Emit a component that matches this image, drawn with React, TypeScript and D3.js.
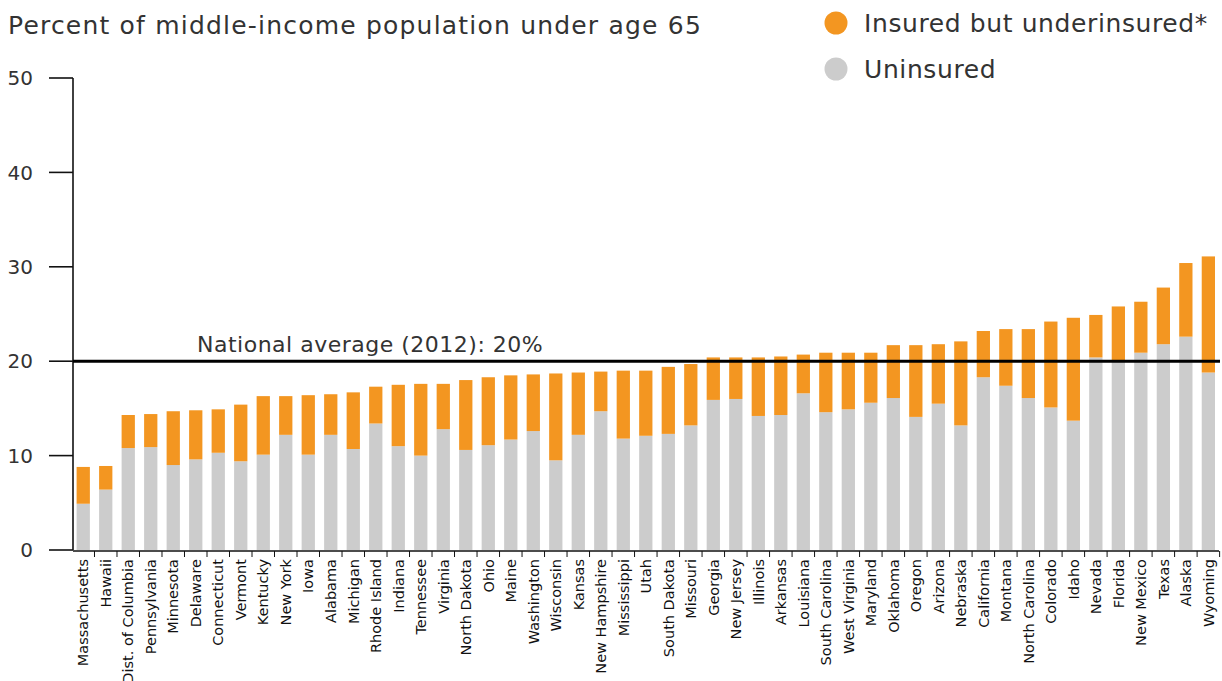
import * as d3 from "d3";
import { useEffect, useRef } from "react";

const states = [
  "Massachusetts", "Hawaii", "Dist. of Columbia", "Pennsylvania", "Minnesota", "Delaware",
  "Connecticut", "Vermont", "Kentucky", "New York", "Iowa", "Alabama", "Michigan",
  "Rhode Island", "Indiana", "Tennessee", "Virginia", "North Dakota", "Ohio", "Maine",
  "Washington", "Wisconsin", "Kansas", "New Hampshire", "Mississippi", "Utah",
  "South Dakota", "Missouri", "Georgia", "New Jersey", "Illinois", "Arkansas", "Louisiana",
  "South Carolina", "West Virginia", "Maryland", "Oklahoma", "Oregon", "Arizona",
  "Nebraska", "California", "Montana", "North Carolina", "Colorado", "Idaho", "Nevada",
  "Florida", "New Mexico", "Texas", "Alaska", "Wyoming",
];

const uninsured = [
  4.9, 6.4, 10.8, 10.9, 9.0, 9.6, 10.3, 9.4, 10.1, 12.2, 10.1, 12.2, 10.7, 13.4, 11.0, 10.0,
  12.8, 10.6, 11.1, 11.7, 12.6, 9.5, 12.2, 14.7, 11.8, 12.1, 12.3, 13.2, 15.9, 16.0, 14.2,
  14.3, 16.6, 14.6, 14.9, 15.6, 16.1, 14.1, 15.5, 13.2, 18.3, 17.4, 16.1, 15.1, 13.7, 20.4,
  20.0, 20.9, 21.8, 22.6, 18.8,
];

const underinsured = [
  3.9, 2.5, 3.5, 3.5, 5.7, 5.2, 4.6, 6.0, 6.2, 4.1, 6.3, 4.3, 6.0, 3.9, 6.5, 7.6,
  4.8, 7.4, 7.2, 6.8, 6.0, 9.2, 6.6, 4.2, 7.2, 6.9, 7.1, 6.5, 4.5, 4.4, 6.2,
  6.2, 4.1, 6.3, 6.0, 5.3, 5.6, 7.6, 6.3, 8.9, 4.9, 6.0, 7.3, 9.1, 10.9, 4.5,
  5.8, 5.4, 6.0, 7.8, 12.3,
];

const yTicks = [0, 10, 20, 30, 40, 50];
const nationalAverage = 20;

const ORANGE = "#f39621";
const GREY = "#cccccc";
const TEXT = "#333333";
const FONT = "'DejaVu Sans', sans-serif";

function App() {
  const ref = useRef<SVGSVGElement>(null);

  useEffect(() => {
    const width = 1222;
    const height = 681;
    const svg = d3.select(ref.current).attr("width", width).attr("height", height);
    svg.selectAll("*").remove();

    const x = d3
      .scaleBand<string>()
      .domain(states)
      .range([73, 1218.6])
      .paddingInner(0.41)
      .paddingOuter(0.16);
    const y = d3.scaleLinear().domain([0, 50]).range([550, 78]);

    const rows = states.map((s, i) => ({
      state: s,
      uninsured: uninsured[i],
      underinsured: underinsured[i],
    }));
    const stacked = d3.stack<any>().keys(["uninsured", "underinsured"])(rows);
    const colors = [GREY, ORANGE];

    svg
      .append("g")
      .selectAll("g")
      .data(stacked)
      .join("g")
      .attr("fill", (_d, i) => colors[i])
      .selectAll("rect")
      .data((d) => d)
      .join("rect")
      .attr("x", (d) => x(d.data.state) ?? 0)
      .attr("width", x.bandwidth())
      .attr("y", (d) => y(d[1]))
      .attr("height", (d) => y(d[0]) - y(d[1]));

    // y axis
    const yAxis = svg.append("g").attr("transform", "translate(73,0)");
    yAxis.append("line").attr("y1", y(50)).attr("y2", y(0)).attr("stroke", "#111").attr("stroke-width", 1.6);
    yAxis
      .selectAll("line.tick")
      .data(yTicks)
      .join("line")
      .attr("class", "tick")
      .attr("x1", -24)
      .attr("x2", 0)
      .attr("y1", (d) => y(d))
      .attr("y2", (d) => y(d))
      .attr("stroke", "#111")
      .attr("stroke-width", 1.6);
    yAxis
      .selectAll("text")
      .data(yTicks)
      .join("text")
      .attr("x", -40)
      .attr("y", (d) => y(d))
      .attr("dy", "0.36em")
      .attr("text-anchor", "end")
      .attr("fill", TEXT)
      .style("font", `20px ${FONT}`)
      .text((d) => d);

    // x axis
    const step = x.step();
    const xAxis = svg.append("g");
    xAxis
      .append("line")
      .attr("x1", 73)
      .attr("x2", 1219)
      .attr("y1", 551)
      .attr("y2", 551)
      .attr("stroke", "#111")
      .attr("stroke-width", 1.5);
    xAxis
      .selectAll("line.tick")
      .data(states)
      .join("line")
      .attr("class", "tick")
      .attr("x1", (d) => (x(d) ?? 0) + x.bandwidth() / 2 + step / 2)
      .attr("x2", (d) => (x(d) ?? 0) + x.bandwidth() / 2 + step / 2)
      .attr("y1", 551)
      .attr("y2", 557)
      .attr("stroke", "#111")
      .attr("stroke-width", 1);
    xAxis
      .selectAll("text")
      .data(states)
      .join("text")
      .attr(
        "transform",
        (d) => `translate(${(x(d) ?? 0) + x.bandwidth() / 2},559) rotate(-90)`
      )
      .attr("dy", "0.36em")
      .attr("text-anchor", "end")
      .attr("fill", "#111")
      .style("font", `14.5px ${FONT}`)
      .text((d) => d);

    // national average
    svg
      .append("line")
      .attr("x1", 73)
      .attr("x2", 1220)
      .attr("y1", y(nationalAverage))
      .attr("y2", y(nationalAverage))
      .attr("stroke", "#000")
      .attr("stroke-width", 3);
    svg
      .append("text")
      .attr("x", 197)
      .attr("y", y(nationalAverage) - 9)
      .attr("fill", TEXT)
      .attr("letter-spacing", 0.5)
      .style("font", `22px ${FONT}`)
      .text(`National average (2012): ${nationalAverage}%`);

    // title
    svg
      .append("text")
      .attr("x", 8)
      .attr("y", 34)
      .attr("fill", TEXT)
      .attr("letter-spacing", 1.2)
      .style("font", `25px ${FONT}`)
      .text("Percent of middle-income population under age 65");

    // legend
    const legend = [
      { label: "Insured but underinsured*", color: ORANGE },
      { label: "Uninsured", color: GREY },
    ];
    const lg = svg
      .append("g")
      .selectAll("g")
      .data(legend)
      .join("g")
      .attr("transform", (_d, i) => `translate(836,${23 + i * 46})`);
    lg.append("circle").attr("r", 11.5).attr("fill", (d) => d.color);
    lg.append("text")
      .attr("x", 28)
      .attr("dy", "0.36em")
      .attr("fill", TEXT)
      .attr("letter-spacing", 0.6)
      .style("font", `25px ${FONT}`)
      .text((d) => d.label);

    return () => {
      svg.selectAll("*").remove();
    };
  }, []);

  return (
    <div style={{ position: "absolute", left: 0, top: 0 }}>
      <svg ref={ref}></svg>
    </div>
  );
}

export default App;
